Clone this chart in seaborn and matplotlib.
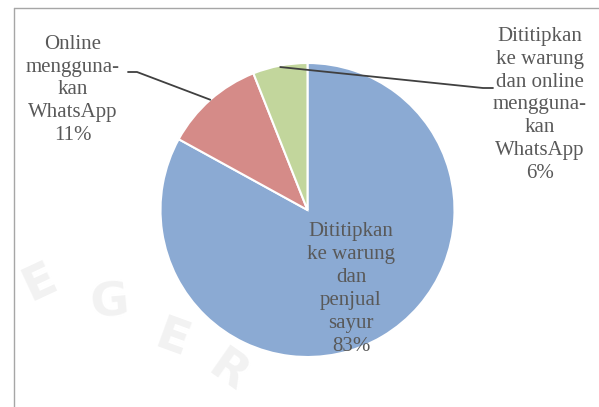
import numpy as np
import matplotlib
matplotlib.use("Agg")
import matplotlib.pyplot as plt
import seaborn as sns
from matplotlib.lines import Line2D

# data
categories = ["Dititipkan\nke warung\ndan\npenjual\nsayur",
              "Online\nmengguna-\nkan\nWhatsApp",
              "Dititipkan\nke warung\ndan online\nmengguna-\nkan\nWhatsApp"]
shares = [83, 11, 6]
slice_colors = ["#8BAAD3", "#D58B88", "#C2D69C"]

sns.set_theme(style="white")
plt.rcParams['font.family'] = ['Liberation Serif', 'DejaVu Serif']

fig = plt.figure(figsize=(5.99, 4.07), dpi=100)
ax = fig.add_axes([0, 0, 1, 1])

# pixel helpers (pie centre at 307.5,210 px, radius 147 px)
CX, CY, R = 307.5, 210.0, 147.0
def px(x, y):
    return ((x - CX) / R, (CY - y) / R)

# faint watermark letters
for ch, (wx, wy), rot in [("E", (40, 283), 25), ("G", (110, 303), 5),
                          ("E", (172, 340), -20), ("R", (228, 372), -35)]:
    ax.text(*px(wx, wy), ch, fontsize=34, fontweight="bold", color="#f2f2f2",
            family="DejaVu Sans", ha="center", va="center", rotation=rot, zorder=0)

wedges, _ = ax.pie(shares, startangle=90, counterclock=False, colors=slice_colors,
                   wedgeprops=dict(edgecolor="white", linewidth=1.5))
for w in wedges:
    w.set_zorder(2)

ax.set_xlim(-CX / R, (599 - CX) / R)
ax.set_ylim((CY - 407) / R, CY / R)
ax.set_aspect("auto")
ax.axis("off")

txt_color = "#595959"
fs = 15
ls = 1.28

# inside label for the large slice
ax.text(*px(351, 289), f"{categories[0]}\n{shares[0]}%", ha="center", va="center",
        fontsize=fs, color=txt_color, linespacing=ls, zorder=3)

# outside labels with leader lines
def mid_angle(w):
    return np.deg2rad((w.theta1 + w.theta2) / 2)

a1 = mid_angle(wedges[1])
p_end = px(137, 72)
ax.plot([np.cos(a1), p_end[0], px(128, 72)[0]],
        [np.sin(a1), p_end[1], px(128, 72)[1]], color="#404040", lw=1.3, zorder=3)
ax.text(*px(73, 90), f"{categories[1]}\n{shares[1]}%", ha="center", va="center",
        fontsize=fs, color=txt_color, linespacing=ls)

a2 = mid_angle(wedges[2])
p_end = px(483, 88)
ax.plot([0.99 * np.cos(a2), p_end[0], px(493, 88)[0]],
        [0.99 * np.sin(a2), p_end[1], px(493, 88)[1]], color="#404040", lw=1.3, zorder=3)
ax.text(*px(540, 105), f"{categories[2]}\n{shares[2]}%", ha="center", va="center",
        fontsize=fs, color=txt_color, linespacing=ls)

# chart frame (top and left edges visible)
fig.add_artist(Line2D([14 / 599, 1], [1 - 8 / 407, 1 - 8 / 407], color="#A6A6A6", lw=1))
fig.add_artist(Line2D([14 / 599, 14 / 599], [0, 1 - 8 / 407], color="#A6A6A6", lw=1))

fig.savefig("out.png", dpi=100)
